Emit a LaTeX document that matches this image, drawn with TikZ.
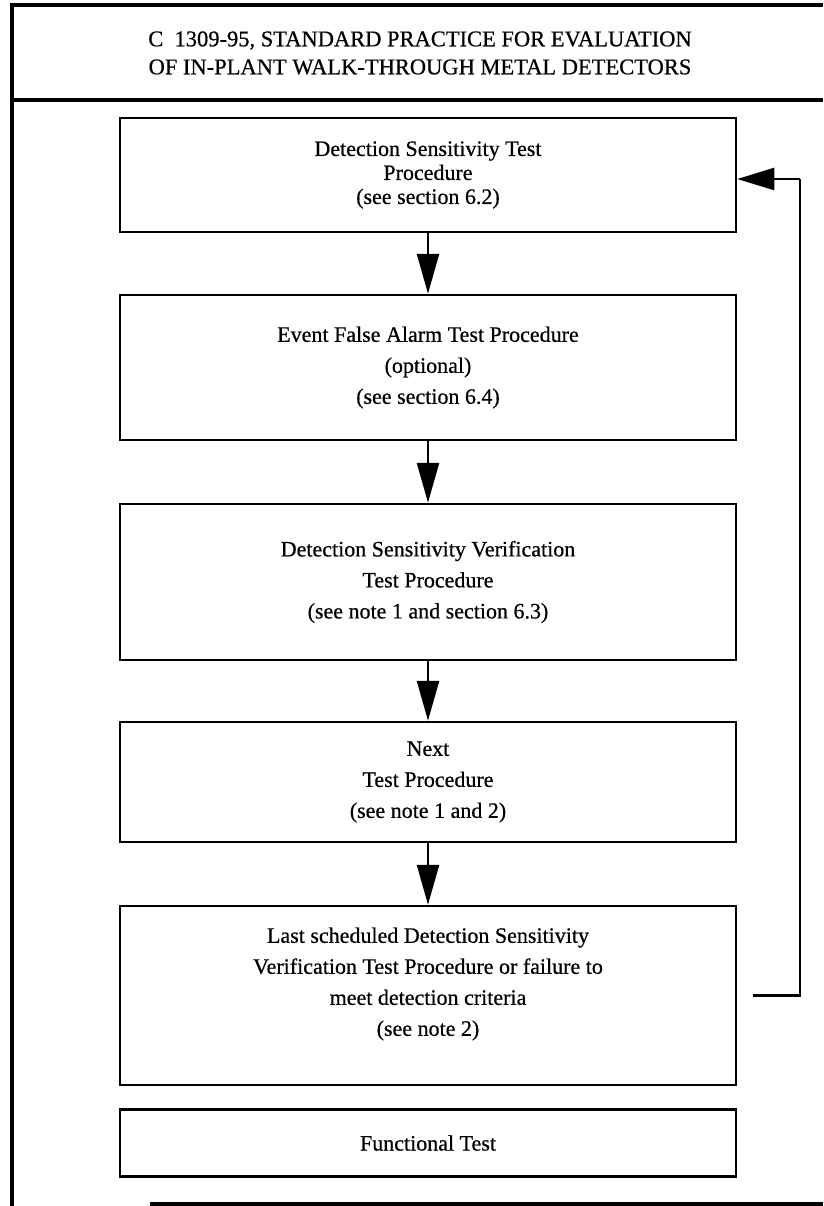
\documentclass[tikz,border=0pt]{standalone}
\usepackage{fontspec}
\setmainfont{Liberation Serif}[FakeBold=0.6]
\usetikzlibrary{arrows.meta}

\tikzset{
  stepbox/.style={draw, line width=2.5pt, minimum width=616pt, align=center,
    inner sep=0pt, font=\fontsize{22}{31}\selectfont},
  steptext/.style={align=center, inner sep=0pt, font=\fontsize{22}{31}\selectfont},
  flow/.style={line width=2.5pt, -{Triangle[length=40pt,width=22pt]}},
  frame/.style={line width=4pt}
}

\begin{document}
\begin{tikzpicture}[x=1pt,y=-1pt] % Flow chart
  \useasboundingbox (0,0) rectangle (823,1206);
  % outer frame and title
  \draw[frame] (823,5) -- (12,5) -- (12,1206);
  \draw[frame] (12,100) -- (823,100);
  \draw[frame] (150,1204) -- (823,1204);
  \node[font=\fontsize{22.5}{28}\selectfont, align=center] (title) at (420,53)
    {C\ \ 1309-95, STANDARD PRACTICE FOR EVALUATION\\
     OF IN-PLANT WALK-THROUGH METAL DETECTORS};

  % boxes
  \node[stepbox, minimum height=114pt, font=\fontsize{22}{24}\selectfont] (sens) at (428,175)
    {Detection Sensitivity Test\\Procedure\\(see section 6.2)};
  \node[stepbox, minimum height=145pt] (alarm) at (428,367.5)
    {Event False Alarm Test Procedure\\(optional)\\(see section 6.4)};
  \node[stepbox, minimum height=156pt] (verif) at (428,582)
    {Detection Sensitivity Verification\\Test Procedure\\(see note 1 and section 6.3)};
  \node[stepbox, minimum height=120pt] (next) at (428,782)
    {Next\\Test Procedure\\(see note 1 and 2)};
  \node[stepbox, minimum height=179pt] (last) at (428,995.5) {};
  \node[steptext] (lasttext) at (428,984)
    {Last scheduled Detection Sensitivity\\Verification Test Procedure or failure to\\
     meet detection criteria\\(see note 2)};
  \node[stepbox, minimum height=67pt] (func) at (428,1143) {Functional Test};

  % arrows
  \draw[flow] (sens) -- (alarm);
  \draw[flow] (alarm) -- (verif);
  \draw[flow] (verif) -- (next);
  \draw[flow] (next) -- (last);
  \coordinate (back) at (800,179);
  \draw[line width=2.5pt] ([xshift=16pt]last.east) -| (back);
  \draw[flow, -{Triangle[length=37pt,width=22pt]}] (back) -- (back -| sens.east);
\end{tikzpicture}
\end{document}
